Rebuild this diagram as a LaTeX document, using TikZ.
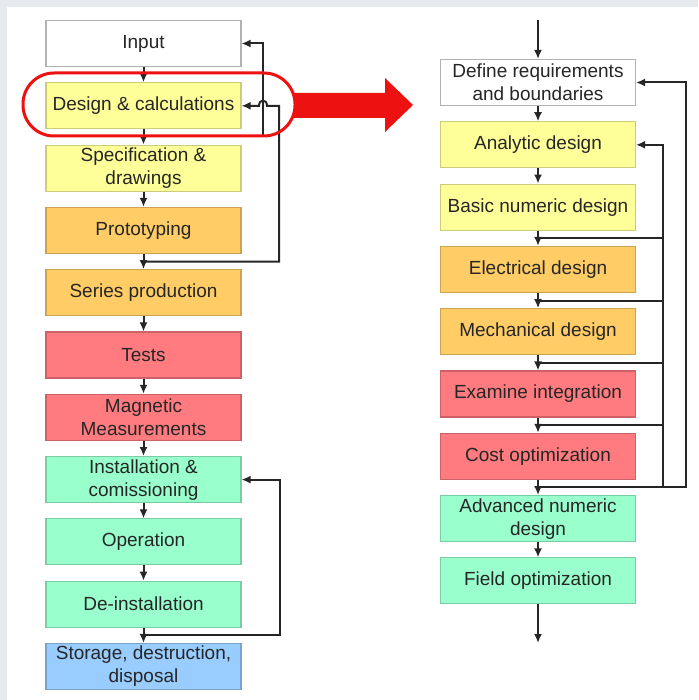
\documentclass[tikz,border=0pt]{standalone}
\usepackage{fontspec}
\setmainfont{Liberation Sans}
\usetikzlibrary{arrows.meta,positioning}
\definecolor{boxyellow}{HTML}{FFFF99}
\definecolor{boxorange}{HTML}{FFCC66}
\definecolor{boxred}{HTML}{FF7B7F}
\definecolor{boxgreen}{HTML}{99FFCC}
\definecolor{boxblue}{HTML}{99CCFF}
\definecolor{hired}{HTML}{EE1111}
\definecolor{pagegray}{HTML}{E6E9EE}

\begin{document}
\begin{tikzpicture}[x=1pt,y=-1pt,node distance=15.2pt,>={Latex[length=9pt,width=8pt]}]
  \tikzstyle{stage}=[rectangle,draw=black!30,line width=1.1pt,fill=white,
                     minimum width=195pt,minimum height=46pt,inner sep=0pt,
                     align=center,font=\fontsize{19}{23}\selectfont,text=black!85]
  \tikzstyle{yellow stage}=[stage,fill=boxyellow,draw=boxyellow!80!black]
  \tikzstyle{orange stage}=[stage,fill=boxorange,draw=boxorange!80!black]
  \tikzstyle{red stage}=[stage,fill=boxred,draw=boxred!80!black]
  \tikzstyle{green stage}=[stage,fill=boxgreen,draw=boxgreen!80!black]
  \tikzstyle{blue stage}=[stage,fill=boxblue,draw=boxblue!80!black]
  \tikzstyle{flow}=[->,line width=2pt,black!85]
  \tikzstyle{link}=[line width=2pt,black!85]

  \fill[pagegray] (0,0) rectangle (698,700);
  \fill[white] (7,7) rectangle (698,700);
  \useasboundingbox (0,0) rectangle (698,700);

  % life cycle of the magnet
  \node [stage] (in) at (143.5,43.5) {Input};
  \node [yellow stage] (dc) [below=of in] {Design \& calculations};
  \node [yellow stage] (spec) [below=of dc] {Specification \&\\drawings};
  \node [orange stage] (proto) [below=of spec] {Prototyping};
  \node [orange stage] (series) [below=of proto] {Series production};
  \node [red stage] (tests) [below=of series] {Tests};
  \node [red stage] (meas) [below=of tests] {Magnetic\\Measurements};
  \node [green stage] (inst) [below=of meas] {Installation \&\\comissioning};
  \node [green stage] (oper) [below=of inst] {Operation};
  \node [green stage] (deinst) [below=of oper] {De-installation};
  \node [blue stage] (store) [below=of deinst] {Storage, destruction,\\disposal};

  % design steps
  \node [stage] (req) at (538,82.5) {Define requirements\\and boundaries};
  \node [yellow stage] (ana) [below=of req] {Analytic design};
  \node [yellow stage] (basic) [below=of ana] {Basic numeric design};
  \node [orange stage] (elec) [below=of basic] {Electrical design};
  \node [orange stage] (mech) [below=of elec] {Mechanical design};
  \node [red stage] (exam) [below=of mech] {Examine integration};
  \node [red stage] (cost) [below=of exam] {Cost optimization};
  \node [green stage] (adv) [below=of cost] {Advanced numeric\\design};
  \node [green stage] (field) [below=of adv] {Field optimization};

  \foreach \a/\b in {in/dc,dc/spec,spec/proto,proto/series,series/tests,tests/meas,
                     meas/inst,inst/oper,oper/deinst,deinst/store,
                     req/ana,ana/basic,basic/elec,elec/mech,mech/exam,exam/cost,
                     cost/adv,adv/field}
    \draw [flow] (\a) -- (\b);

  % junctions and rails of the feedback loops
  \path (proto.south) -- (series.north) coordinate[pos=.5] (j1);
  \path (deinst.south) -- (store.north) coordinate[pos=.5] (j2);
  \path (basic.south) -- (elec.north) coordinate[pos=.5] (k1);
  \path (elec.south) -- (mech.north) coordinate[pos=.5] (k2);
  \path (mech.south) -- (exam.north) coordinate[pos=.5] (k3);
  \path (exam.south) -- (cost.north) coordinate[pos=.5] (k4);
  \path (cost.south) -- (adv.north) coordinate[pos=.5] (k5);
  \coordinate (inrail) at (263,136);
  \coordinate (rail1) at (279,0);
  \coordinate (rail2) at (280,0);
  \coordinate (railA) at (663,0);
  \coordinate (railB) at (686,0);
  \coordinate (top) at (538,20);
  \coordinate (bot) at (538,643);

  \draw [flow] (inrail) |- (in.east);
  \draw [flow] (j1) -| (rail1 |- dc.east) -- ([xshift=4pt]inrail |- dc.east)
    .. controls +(0,-7) and +(0,-7) .. ([xshift=-4pt]inrail |- dc.east) -- (dc.east);
  \draw [flow] (j2) -| (rail2 |- inst.east) -- (inst.east);

  \foreach \j in {k1,k2,k3,k4}
    \draw [link] (\j) -- (\j -| railA);
  \draw [flow] (k5) -| (railA |- ana.east) -- (ana.east);
  \draw [flow] (k5) -| (railB |- req.east) -- (req.east);
  \draw [flow] (top) -- (req);
  \draw [flow] (field) -- (bot);

  % highlight
  \fill [hired] (294,93) -- (385,93) -- (385,78) -- (413,105) -- (385,132)
    -- (385,118) -- (294,118) -- cycle;
  \draw [hired,line width=3pt,rounded corners=31pt] (23,73) rectangle (295,136);
\end{tikzpicture}
\end{document}
